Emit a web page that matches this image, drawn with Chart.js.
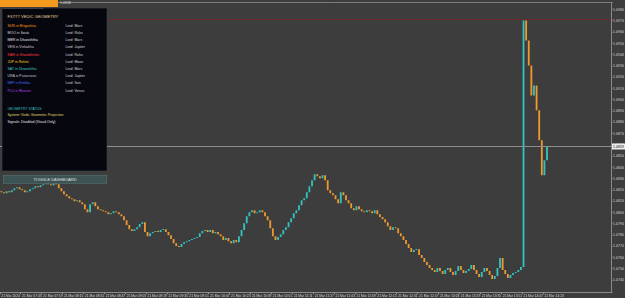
<!DOCTYPE html>
<html>
<head>
<meta charset="utf-8">
<script src="https://cdn.jsdelivr.net/npm/chart.js@4.4.1/dist/chart.umd.min.js"></script>
<style>
html, body { margin: 0; padding: 0; background: #3d3d3d; overflow: hidden; }
#wrap { position: relative; width: 625px; height: 298px; }
#chart { position: absolute; left: 0; top: 0; }
.half { position: absolute; transform: scale(0.5); transform-origin: 0 0; font-family: "Liberation Sans", Arial, sans-serif; }
.half div { position: absolute; white-space: nowrap; }
#topbar { left: 0; top: 0; width: 116px; height: 14px; background: #f39a1e; }
#toplabel { left: 60px; top: 1px; font-size: 7px; color: #d8d8d8; }
#panel { left: 2px; top: 8px; width: 208px; height: 324px; background: #06060e; border: 1px solid #2a2a36; }
#panel div { font-size: 7px; line-height: 8px; }
#panel .title { font-size: 8.3px; line-height: 10px; color: #e6d3a0; left: 10px; top: 11px; }
#panel .sep { left: 10px; top: 188px; width: 82px; height: 1px; background: #6a6a78; }
#toggle { left: 3px; top: 175px; width: 206px; height: 15px; background: #3b5353; border: 1px solid #5d7474;
  color: #e2e2e2; font-size: 8px; line-height: 15px; text-align: center; }
</style>
</head>
<body>
<div id="wrap">
  <canvas id="chart" width="625" height="298"></canvas>
  <div class="half" id="topbar"></div>
  <div class="half" id="toplabel">1.0948</div>
  <div class="half" id="panel"></div>
  <div class="half" id="toggle">TOGGLE DASHBOARD</div>
</div>
<script>
// 2 minute candles, close prices
const firstOpen = 1.08190;
const closes = [
  1.08181, 1.08172, 1.08190, 1.08181, 1.08199, 1.08216, 1.08225, 1.08207, 1.08199, 1.08181,
  1.08190, 1.08207, 1.08216, 1.08234, 1.08225, 1.08243, 1.08252, 1.08260, 1.08252, 1.08243,
  1.08269, 1.08252, 1.08216, 1.08190, 1.08163, 1.08145, 1.08128, 1.08119, 1.08101, 1.08110,
  1.08092, 1.08075, 1.08030, 1.08004, 1.08075, 1.08092, 1.08057, 1.08030, 1.08022, 1.08013,
  1.08004, 1.07986, 1.07995, 1.08013, 1.08004, 1.07986, 1.07968, 1.07933, 1.07889, 1.07853,
  1.07836, 1.07853, 1.07871, 1.07898, 1.07915, 1.07827, 1.07791, 1.07818, 1.07827, 1.07836,
  1.07827, 1.07845, 1.07853, 1.07827, 1.07800, 1.07765, 1.07729, 1.07703, 1.07694, 1.07721,
  1.07738, 1.07747, 1.07756, 1.07765, 1.07774, 1.07783, 1.07818, 1.07836, 1.07845, 1.07827,
  1.07845, 1.07818, 1.07827, 1.07809, 1.07791, 1.07756, 1.07774, 1.07747, 1.07729, 1.07756,
  1.07738, 1.07791, 1.07845, 1.07906, 1.07968, 1.08004, 1.08022, 1.07995, 1.08004, 1.08022,
  1.08004, 1.07968, 1.07933, 1.07862, 1.07791, 1.07756, 1.07783, 1.07809, 1.07845, 1.07871,
  1.07915, 1.07951, 1.07995, 1.08022, 1.08066, 1.08110, 1.08128, 1.08181, 1.08234, 1.08287,
  1.08340, 1.08322, 1.08305, 1.08331, 1.08287, 1.08199, 1.08172, 1.08154, 1.08119, 1.08083,
  1.08181, 1.08154, 1.08110, 1.08083, 1.08039, 1.08022, 1.08057, 1.08030, 1.08013, 1.08004,
  1.08022, 1.08013, 1.07995, 1.08022, 1.07986, 1.07960, 1.07942, 1.07915, 1.07880, 1.07845,
  1.07871, 1.07862, 1.07818, 1.07791, 1.07756, 1.07721, 1.07685, 1.07650, 1.07668, 1.07676,
  1.07623, 1.07597, 1.07561, 1.07535, 1.07508, 1.07491, 1.07473, 1.07508, 1.07482, 1.07455,
  1.07491, 1.07508, 1.07473, 1.07446, 1.07482, 1.07526, 1.07491, 1.07464, 1.07482, 1.07499,
  1.07535, 1.07491, 1.07455, 1.07429, 1.07473, 1.07508, 1.07482, 1.07446, 1.07411, 1.07437,
  1.07508, 1.07597, 1.07491, 1.07455, 1.07420, 1.07446, 1.07464, 1.07473, 1.07491, 1.07517,
  1.09703, 1.09526, 1.09305, 1.09039, 1.09128, 1.08907, 1.08641, 1.08331, 1.08464, 1.08588
];
const timeLabels = [
  '21 Mar 2024', '21 Mar 07:43', '21 Mar 07:59', '21 Mar 08:15', '21 Mar 08:31', '21 Mar 08:47',
  '21 Mar 09:03', '21 Mar 09:19', '21 Mar 09:35', '21 Mar 09:51', '21 Mar 10:07', '21 Mar 10:23',
  '21 Mar 10:39', '21 Mar 10:55', '21 Mar 11:11', '21 Mar 11:27', '21 Mar 11:43', '21 Mar 11:59',
  '21 Mar 12:15', '21 Mar 12:31', '21 Mar 12:47', '21 Mar 13:03', '21 Mar 13:19', '21 Mar 13:35',
  '21 Mar 13:51', '21 Mar 14:07', '21 Mar 14:23'
];
const barsPerLabel = 8;
const slots = 234;          // candle slots visible on screen
const yTop = 1.098623;
const yBottom = 1.072958;

const planets = ['SUN in Mrigashira', 'MOO in Swati', 'MER in Dhanishtha', 'VEN in Vishakha', 'RAH in Shatabhisha',
  'JUP in Rohini', 'SAT in Dhanishtha', 'URA in Punarvasu', 'NEP in Krittika', 'PLU in Bharani'];
const lords = ['Lord: Mars', 'Lord: Rahu', 'Lord: Mars', 'Lord: Jupiter', 'Lord: Rahu',
  'Lord: Moon', 'Lord: Mars', 'Lord: Jupiter', 'Lord: Sun', 'Lord: Venus'];
const planetColors = ['#ff9d1a', '#dcdcdc', '#e8e8f0', '#d8c8d8', '#ff3a3a', '#ffd21f', '#3fd0c8', '#c0c8d8', '#4a6cff', '#b040e0'];

const bull = '#33c2c2';
const bear = '#ec9a2e';

// dashboard panel
const panel = document.getElementById('panel');
function addText(text, x, y, color, cls) {
  const d = document.createElement('div');
  d.textContent = text;
  d.style.left = x + 'px';
  d.style.top = y + 'px';
  d.style.color = color;
  if (cls) d.className = cls;
  panel.appendChild(d);
  return d;
}
addText('FX777 VEDIC GEOMETRY', 10, 11, '#e6d3a0', 'title');
planets.forEach((p, i) => {
  addText(p, 10, 30 + i * 14.4, planetColors[i]);
  addText(lords[i], 126, 30 + i * 14.4, '#d8d8d8');
});
addText('', 0, 0, '#000', 'sep');
addText('GEOMETRY STATUS', 10, 196, '#3fbfc0');
addText('System: Vedic Geometric Projection', 10, 208, '#e0dc70');
addText('Signals: Disabled (Visual Only)', 10, 222, '#e8e8e8');

const categories = [];
for (let i = 0; i < slots; i++) categories.push(i);
const bodies = closes.map((c, i) => [i === 0 ? firstOpen : closes[i - 1], c]);
const colors = closes.map((c, i) => c >= (i === 0 ? firstOpen : closes[i - 1]) ? bull : bear);

const priceLines = {
  id: 'priceLines',
  afterDatasetsDraw(chart) {
    const {ctx, chartArea, scales} = chart;
    const last = closes[closes.length - 1];
    const yLast = Math.round(scales.y.getPixelForValue(last)) + 0.5;
    const yHigh = Math.round(scales.y.getPixelForValue(Math.max(...closes))) - 1.5;
    ctx.save();
    ctx.lineWidth = 1;
    ctx.strokeStyle = '#6b2c2c';
    ctx.beginPath();
    ctx.moveTo(chartArea.left, yHigh);
    ctx.lineTo(chartArea.right, yHigh);
    ctx.stroke();
    ctx.strokeStyle = '#7c7c7c';
    ctx.beginPath();
    ctx.moveTo(58, 2.5);
    ctx.lineTo(chartArea.right, 2.5);
    ctx.stroke();
    ctx.strokeStyle = '#8e8e8e';
    ctx.beginPath();
    ctx.moveTo(chartArea.left, yLast);
    ctx.lineTo(chartArea.right, yLast);
    ctx.stroke();
    ctx.fillStyle = '#ececec';
    ctx.fillRect(chartArea.right + 1, yLast - 3, 13, 6);
    ctx.fillStyle = '#202020';
    ctx.font = '3.6px "Liberation Sans", Arial, sans-serif';
    ctx.textBaseline = 'middle';
    ctx.fillText(last.toFixed(4), chartArea.right + 2, yLast);
    ctx.restore();
  }
};

const ctx = document.getElementById('chart').getContext('2d');
new Chart(ctx, {
  type: 'bar',
  data: {
    labels: categories,
    datasets: [{
      data: bodies,
      backgroundColor: colors,
      borderWidth: 0,
      barPercentage: 0.7,
      categoryPercentage: 1,
      minBarLength: 1
    }]
  },
  options: {
    responsive: false,
    animation: false,
    layout: { padding: { top: 2, left: 0, right: 0, bottom: 0 } },
    plugins: { legend: { display: false }, tooltip: { enabled: false } },
    scales: {
      x: {
        ticks: {
          autoSkip: false,
          maxRotation: 0,
          align: 'start',
          padding: 0,
          color: '#cfcfcf',
          font: { size: 3.3, family: '"Liberation Sans", Arial, sans-serif' },
          callback: (v, i) => (i % barsPerLabel === 0 && timeLabels[i / barsPerLabel]) ? timeLabels[i / barsPerLabel] : ''
        },
        grid: {
          drawOnChartArea: false,
          tickLength: 2,
          color: c => (c.index % barsPerLabel === 0 && c.index / barsPerLabel < timeLabels.length) ? '#9a9a9a' : 'rgba(0,0,0,0)'
        },
        border: { color: '#8a8a8a' },
        afterFit: s => { s.height = 6; }
      },
      y: {
        position: 'right',
        min: yBottom,
        max: yTop,
        ticks: {
          stepSize: 0.001,
          padding: 0.5,
          color: '#cfcfcf',
          font: { size: 3.6, family: '"Liberation Sans", Arial, sans-serif' },
          callback: v => Math.abs(v * 1000 - Math.round(v * 1000)) < 1e-6 ? v.toFixed(4) : ''
        },
        grid: { drawOnChartArea: false, tickLength: 1.5, color: '#9a9a9a' },
        border: { color: '#8a8a8a' },
        afterFit: s => { s.width = 14; }
      }
    }
  },
  plugins: [priceLines]
});
</script>
</body>
</html>
